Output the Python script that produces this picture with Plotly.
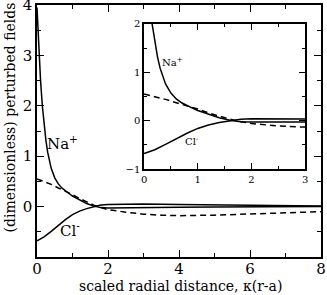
import plotly.graph_objects as go

# ---- data ----
x_na = [0, 0.02, 0.04, 0.065, 0.1, 0.15, 0.2, 0.25, 0.3, 0.4, 0.5, 0.6, 0.7, 0.8, 0.9,
        1.0, 1.2, 1.4, 1.6, 1.8, 2.0, 2.5, 3, 4, 5, 6, 7, 8]
na = [3.95, 3.6, 3.3, 3.0, 2.5, 2.0, 1.62, 1.32, 1.08, 0.76, 0.57, 0.45, 0.37, 0.31, 0.26,
      0.21, 0.13, 0.06, 0.01, -0.02, -0.03, -0.03, -0.025, -0.015, -0.01, -0.005, 0, 0]

x_cl = [0, 0.2, 0.4, 0.5, 0.6, 0.8, 1.0, 1.2, 1.4, 1.6, 1.8, 2.0, 2.5, 3, 4, 5, 6, 7, 8]
cl = [-0.68, -0.6, -0.49, -0.43, -0.37, -0.26, -0.16, -0.09, -0.04, 0.0, 0.03, 0.04,
      0.05, 0.05, 0.04, 0.03, 0.02, 0.015, 0.01]

x_d = [0, 0.2, 0.4, 0.6, 0.8, 1.0, 1.2, 1.4, 1.6, 1.8, 2.0, 2.5, 3.0, 3.5, 4, 5, 6, 7, 8]
dashed = [0.55, 0.5, 0.44, 0.37, 0.31, 0.24, 0.16, 0.09, 0.03, -0.02, -0.06, -0.11,
          -0.15, -0.17, -0.18, -0.17, -0.15, -0.12, -0.1]

main_xticks = [0, 2, 4, 6, 8]
main_yticks = [0, 1, 2, 3, 4]
inset_xticks = [0, 1, 2, 3]
inset_yticks = [-1, 0, 1, 2]

x_title = "scaled radial distance, κ(r-a)"
y_title = "(dimensionless) perturbed fields"

FONT = "DejaVu Serif"

fig = go.Figure()

for xa, ya in [("x", "y"), ("x2", "y2")]:
    fig.add_trace(go.Scatter(x=x_na, y=na, mode="lines", xaxis=xa, yaxis=ya,
                             line=dict(color="black", width=1.5), showlegend=False))
    fig.add_trace(go.Scatter(x=x_cl, y=cl, mode="lines", xaxis=xa, yaxis=ya,
                             line=dict(color="black", width=1.5), showlegend=False))
    fig.add_trace(go.Scatter(x=x_d, y=dashed, mode="lines", xaxis=xa, yaxis=ya,
                             line=dict(color="black", width=1.5, dash="6px,4px"),
                             showlegend=False))

axis_common = dict(showgrid=False, zeroline=False, showline=True, linecolor="black",
                   linewidth=1.5, mirror="allticks", ticks="inside", tickcolor="black",
                   tickwidth=1.2, automargin=False, ticklabeloverflow="allow")

fig.update_layout(
    width=327, height=295,
    margin=dict(l=37, r=6, t=5, b=38, autoexpand=False),
    paper_bgcolor="white", plot_bgcolor="white",
    font=dict(family=FONT, color="black"),
    xaxis=dict(range=[0, 8], domain=[0, 1], tickvals=main_xticks, ticklen=7,
               ticklabelstandoff=-3,
               minor=dict(ticks="inside", ticklen=4, dtick=1, tickcolor="black", tickwidth=1.2),
               tickfont=dict(size=15, family=FONT), **axis_common),
    yaxis=dict(range=[-1, 4], domain=[0, 1], tickvals=main_yticks, ticklen=7,
               minor=dict(ticks="inside", ticklen=4, dtick=0.5, tick0=0, tickcolor="black", tickwidth=1.2),
               tickfont=dict(size=15, family=FONT), **axis_common),
    xaxis2=dict(range=[0, 3], domain=[0.377, 0.944], anchor="y2", tickvals=inset_xticks,
                ticklen=6,
                minor=dict(ticks="inside", ticklen=3, dtick=0.5, tickcolor="black", tickwidth=1.2),
                tickfont=dict(size=10, family=FONT), **axis_common),
    yaxis2=dict(range=[-1, 2], domain=[0.349, 0.925], anchor="x2", tickvals=inset_yticks,
                ticklen=6,
                minor=dict(ticks="inside", ticklen=3, dtick=0.5, tick0=0, tickcolor="black", tickwidth=1.2),
                tickfont=dict(size=10, family=FONT), **axis_common),
    annotations=[
        dict(x=0.505, y=-0.115, xref="paper", yref="paper", text=x_title, showarrow=False,
             xanchor="center", yanchor="middle", font=dict(size=14, family=FONT)),
        dict(x=-0.095, y=0.554, xref="paper", yref="paper", text=y_title, showarrow=False,
             textangle=-90, xanchor="center", yanchor="middle", font=dict(size=14, family=FONT)),
        dict(x=0.72, y=1.27, xref="x", yref="y", text="Na<sup>+</sup>", showarrow=False,
             font=dict(size=15, family=FONT)),
        dict(x=0.92, y=-0.47, xref="x", yref="y", text="Cl<sup>-</sup>", showarrow=False,
             font=dict(size=15, family=FONT)),
        dict(x=0.53, y=1.22, xref="x2", yref="y2", text="Na<sup>+</sup>", showarrow=False,
             font=dict(size=10, family=FONT)),
        dict(x=0.89, y=-0.43, xref="x2", yref="y2", text="Cl<sup>-</sup>", showarrow=False,
             font=dict(size=10, family=FONT)),
    ],
)

fig.write_html("out.html", config={"displayModeBar": False},
               post_script="document.body.style.margin='0';document.body.style.padding='0';document.body.style.overflow='hidden';")
